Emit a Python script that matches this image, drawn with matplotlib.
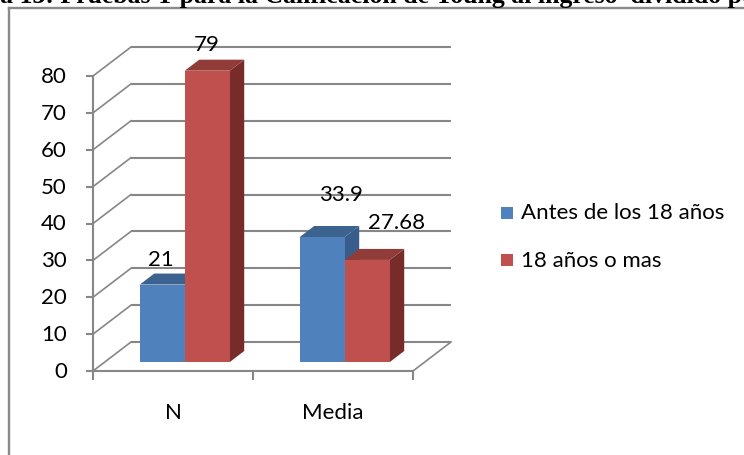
import matplotlib
matplotlib.use("Agg")
import matplotlib.pyplot as plt
from matplotlib.patches import Polygon, Rectangle
from matplotlib.textpath import TextPath
from matplotlib.font_manager import FontProperties

# ---- data ----
categories = ["N", "Media"]
series_names = ["Antes de los 18 años", "18 años o mas"]
antes_18 = [21, 33.9]
desde_18 = [79, 27.68]
value_labels = [["21", "33.9"], ["79", "27.68"]]
y_ticks = [0, 10, 20, 30, 40, 50, 60, 70, 80]
title = "Tabla 13: Pruebas T para la Calificación de Young al ingreso  dividido por edad"

# ---- style ----
W, H = 744, 456
front_colors = ["#4F81BD", "#C0504D"]
top_colors = ["#3C6390", "#923C3A"]
side_colors = ["#385D8A", "#772C2A"]
grid_color = "#878787"
font = ["Lato", "DejaVu Sans"]
fs = 16

fig = plt.figure(figsize=(W / 100, H / 100), dpi=100)
ax = fig.add_axes([0, 0, 1, 1])
ax.set_axis_off()

# front plane: category slots of 160 px, 3.6875 px per value unit
px_x, px_y = 160.0, 3.6875
x0_px, y0_px = 93.0, 372.0
ax.set_xlim(-0.5 - x0_px / px_x, -0.5 + (W - x0_px) / px_x)
ax.set_ylim(-(H - y0_px) / px_y, y0_px / px_y)

# depth of the 3-D box in data units
DX, DY = 38 / px_x, 29 / px_y
xmin, xmax = -0.5, len(categories) - 0.5
ymax = y_ticks[-1]

# back wall gridlines and left-wall diagonals
for v in y_ticks:
    ax.plot([xmin + DX, xmax + DX], [v + DY, v + DY], color=grid_color, lw=1.5,
            solid_capstyle="butt", zorder=1)
    ax.plot([xmin, xmin + DX], [v, v + DY], color=grid_color, lw=1.2, zorder=1)
# floor front edge and right diagonal
ax.plot([xmin, xmax], [0, 0], color=grid_color, lw=1.5, zorder=1)
ax.plot([xmax, xmax + DX], [0, DY], color=grid_color, lw=1.2, zorder=1)
# value axis line and ticks
ax.plot([xmin, xmin], [0, ymax], color=grid_color, lw=1.5, zorder=1)
tick_len_x = 6 / px_x
for v in y_ticks:
    ax.plot([xmin - tick_len_x, xmin], [v, v], color=grid_color, lw=1.5, zorder=1)
    ax.text(xmin - 26 / px_x, v, str(v), ha="right", va="center", fontsize=fs,
            family=font, color="#000000")
# category ticks and labels
for k in range(len(categories) + 1):
    ax.plot([xmin + k, xmin + k], [0, -8 / px_y], color=grid_color, lw=1.5, zorder=1)
for i, c in enumerate(categories):
    ax.text(i, -41 / px_y, c, ha="center", va="center", fontsize=fs, family=font)

# bars
bar_w = 45 / px_x
f0, f1 = 0.31, 0.69
label_offsets = [[(-1.5, 25.5), (19, 43.5)], [(-0.5, 26.5), (29.5, 38)]]
for i in range(len(categories)):
    for s, vals in enumerate([antes_18, desde_18]):
        v = vals[i]
        xl = i - bar_w + s * bar_w
        xr = xl + bar_w
        side = [(xr + f0 * DX, f0 * DY), (xr + f1 * DX, f1 * DY),
                (xr + f1 * DX, v + f1 * DY), (xr + f0 * DX, v + f0 * DY)]
        top = [(xl + f0 * DX, v + f0 * DY), (xr + f0 * DX, v + f0 * DY),
               (xr + f1 * DX, v + f1 * DY), (xl + f1 * DX, v + f1 * DY)]
        ax.add_patch(Polygon(side, closed=True, fc=side_colors[s], ec="none", zorder=3))
        ax.add_patch(Polygon(top, closed=True, fc=top_colors[s], ec="none", zorder=3))
        ax.add_patch(Rectangle((xl + f0 * DX, f0 * DY), bar_w, v,
                               fc=front_colors[s], ec="none", zorder=3))
        dx, dy = label_offsets[s][i]
        ax.annotate(value_labels[s][i], ((xl + xr) / 2 + f0 * DX, v + f0 * DY),
                    xytext=(dx, dy), textcoords="offset pixels", ha="center",
                    va="center", fontsize=fs, family=font, zorder=5)

# legend
for s, name in enumerate(series_names):
    cy = [213.5, 261][s]
    fig.patches.append(Rectangle((501 / W, 1 - (cy + 6) / H), 12 / W, 12 / H,
                                 transform=fig.transFigure, fc=front_colors[s],
                                 ec="none"))
    fig.text(521 / W, 1 - cy / H, name, ha="left", va="center", fontsize=fs,
             family=font)

# chart frame
frame_x, frame_y = 9, 8.5
fig.lines.append(plt.Line2D([frame_x / W, frame_x / W], [1 - frame_y / H, 0],
                            transform=fig.transFigure, color="#8A8A8A", lw=1.7))
fig.lines.append(plt.Line2D([frame_x / W, 1], [1 - frame_y / H, 1 - frame_y / H],
                            transform=fig.transFigure, color="#8A8A8A", lw=1.7))

# heading running above the chart: "Tabl" falls off the left edge and the
# text up to "dividido " spans most of the figure width
tfp = FontProperties(family="Liberation Serif", weight="bold", size=10)
def text_w(s):
    return TextPath((0, 0), s, prop=tfp).get_extents().x1
head_cut = title.index("a 13")
tail_cut = title.index("por")
w_prefix = text_w(title[:head_cut])
w_body = text_w(title[:tail_cut]) - w_prefix
title_fs = 10 * (720 * 0.72) / w_body
lead_px = w_prefix * title_fs / 10 / 0.72
fig.text(-lead_px / W, 1 - 2.5 / H, title, ha="left", va="baseline",
         fontsize=title_fs, family="Liberation Serif", fontweight="bold")

fig.savefig("out.png", dpi=100)
